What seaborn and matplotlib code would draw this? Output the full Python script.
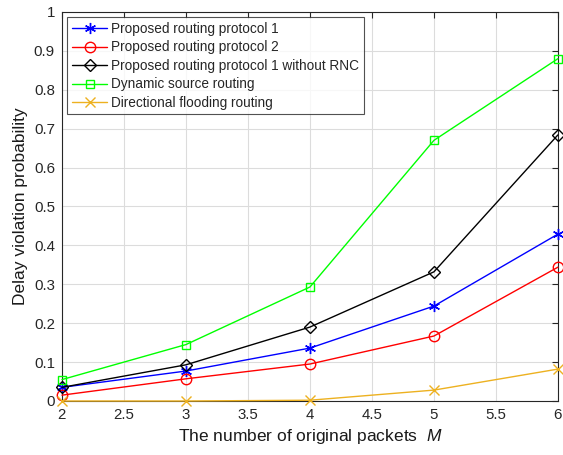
import matplotlib
matplotlib.use("Agg")
import matplotlib.pyplot as plt
import seaborn as sns
import pandas as pd

M = [2, 3, 4, 5, 6]
series_names = [
    "Proposed routing protocol 1",
    "Proposed routing protocol 2",
    "Proposed routing protocol 1 without RNC",
    "Dynamic source routing",
    "Directional flooding routing",
]
proto1 = [0.035, 0.077, 0.136, 0.244, 0.429]
proto2 = [0.015, 0.057, 0.095, 0.167, 0.344]
proto1_no_rnc = [0.035, 0.093, 0.190, 0.332, 0.684]
dsr = [0.055, 0.145, 0.293, 0.670, 0.880]
dfr = [0.0, 0.0, 0.002, 0.028, 0.082]

colors = ["#0000FF", "#FF0000", "#000000", "#00FF00", "#EDB120"]
markers = [(6, 2, 0), "o", "D", "s", "x"]
msizes = [8, 7.5, 6.5, 6, 7]

values = [proto1, proto2, proto1_no_rnc, dsr, dfr]

sns.set_style("white")
plt.rcParams["font.family"] = ["Liberation Sans", "DejaVu Sans"]
plt.rcParams["mathtext.fontset"] = "custom"
plt.rcParams["mathtext.it"] = "Liberation Sans:italic"
plt.rcParams["mathtext.rm"] = "Liberation Sans"

fig = plt.figure(figsize=(5.63, 4.55), dpi=100)
ax = fig.add_axes([0.110, 0.1187, 0.881, 0.855])

handles = []
for name, vals, c, mk, ms in zip(series_names, values, colors, markers, msizes):
    df = pd.DataFrame({"M": M, "p": vals})
    sns.lineplot(data=df, x="M", y="p", color=c, marker=mk, ax=ax,
                 linewidth=1.0, zorder=3, legend=False)
    line = ax.lines[-1]
    line.set_markerfacecolor("none")
    line.set_markeredgecolor(c)
    line.set_markersize(ms)
    line.set_markeredgewidth(1.0)
    line.set_clip_on(False)
    handles.append(line)

ax.set_xlim(2, 6)
ax.set_ylim(0, 1)
ax.set_xticks([2, 2.5, 3, 3.5, 4, 4.5, 5, 5.5, 6])
ax.set_xticklabels(["2", "2.5", "3", "3.5", "4", "4.5", "5", "5.5", "6"])
ax.set_yticks([i / 10 for i in range(11)])
ax.set_yticklabels(["0", "0.1", "0.2", "0.3", "0.4", "0.5", "0.6", "0.7", "0.8", "0.9", "1"])
ax.grid(True, color="#dcdcdc", linewidth=0.8)
ax.set_axisbelow(True)
ax.tick_params(direction="in", length=4, width=0.8, top=True, right=True,
               labelsize=10.8, colors="#262626", pad=5)
for s in ax.spines.values():
    s.set_color("#262626")
    s.set_linewidth(0.8)

ax.set_xlabel("The number of original packets  $\\mathit{M}$", fontsize=12.5, color="#1a1a1a")
ax.set_ylabel("Delay violation probability", fontsize=12.5, color="#1a1a1a")

leg = ax.legend(handles, series_names, loc="upper left", fontsize=9.8,
                frameon=True, fancybox=False, edgecolor="#262626",
                borderaxespad=0.4, handlelength=2.6, labelspacing=0.33,
                borderpad=0.33, handletextpad=0.3)
leg.get_frame().set_linewidth(0.8)

fig.savefig("out.png", dpi=100)
